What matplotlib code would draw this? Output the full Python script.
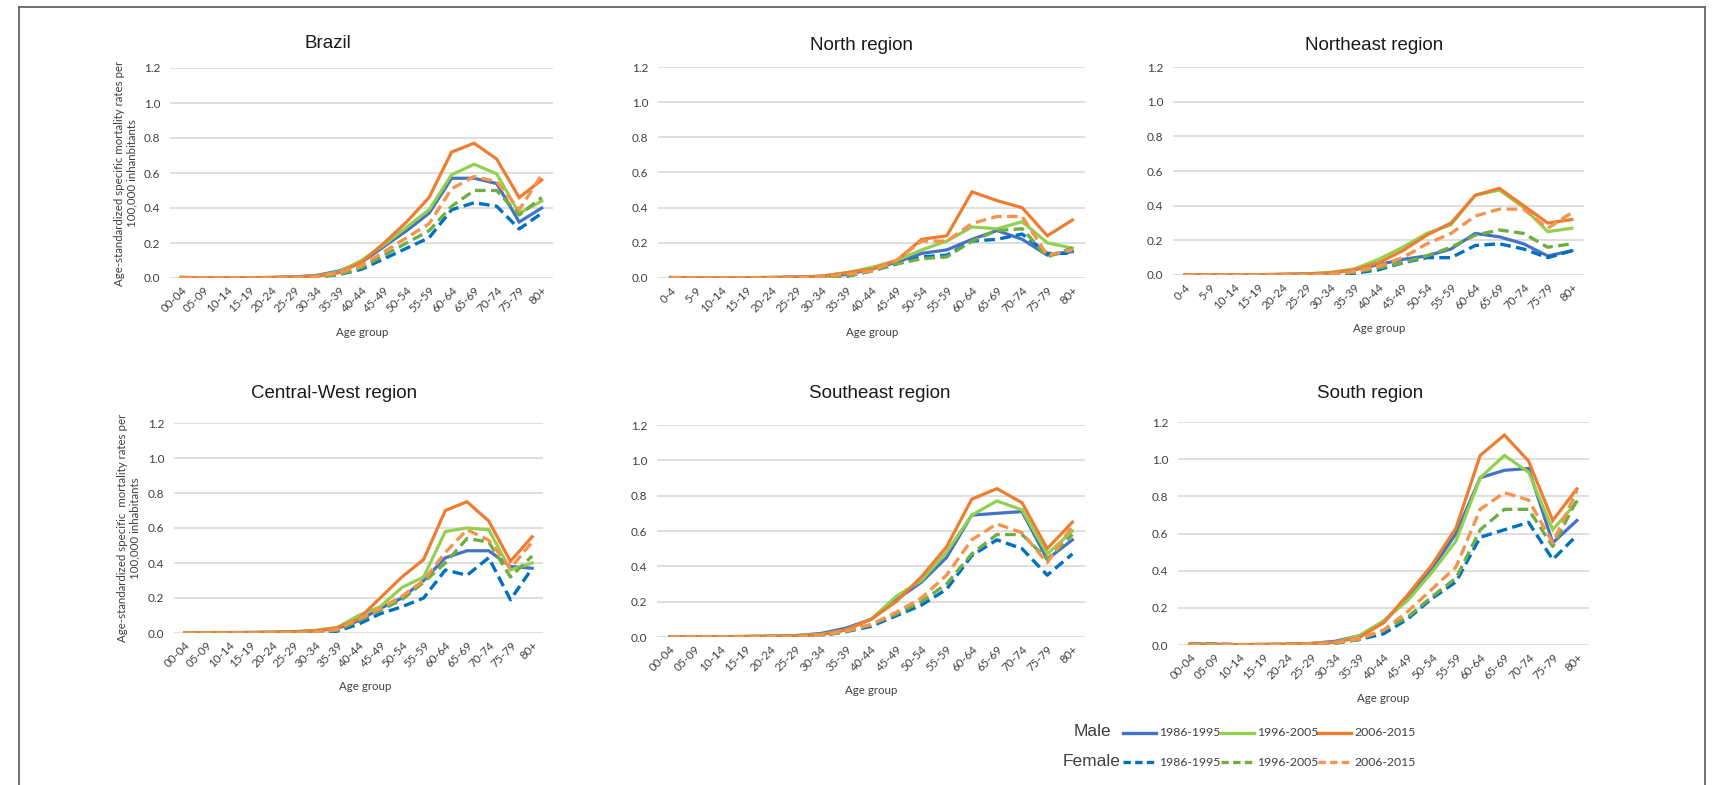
import matplotlib.pyplot as plt
from matplotlib.lines import Line2D
import numpy as np

# age groups (two labelling styles used in the source figure)
ages_a = ['00-04', '05-09', '10-14', '15-19', '20-24', '25-29', '30-34', '35-39', '40-44',
          '45-49', '50-54', '55-59', '60-64', '65-69', '70-74', '75-79', '80+']
ages_b = ['0-4', '5-9', '10-14', '15-19', '20-24', '25-29', '30-34', '35-39', '40-44',
          '45-49', '50-54', '55-59', '60-64', '65-69', '70-74', '75-79', '80+']

periods = ['1986-1995', '1996-2005', '2006-2015']

# values per panel: male (m) and female (f) for each period
brazil_m86 = [0.003, 0.001, 0.001, 0.002, 0.003, 0.006, 0.015, 0.04, 0.09, 0.18, 0.27, 0.37, 0.57, 0.57, 0.54, 0.32, 0.40]
brazil_m96 = [0.005, 0.001, 0.001, 0.002, 0.003, 0.005, 0.012, 0.035, 0.10, 0.19, 0.29, 0.39, 0.59, 0.65, 0.595, 0.37, 0.44]
brazil_m06 = [0.002, 0.001, 0.001, 0.002, 0.003, 0.005, 0.01, 0.03, 0.09, 0.20, 0.32, 0.46, 0.72, 0.77, 0.68, 0.46, 0.56]
brazil_f86 = [0.002, 0.001, 0.001, 0.001, 0.002, 0.003, 0.006, 0.02, 0.05, 0.11, 0.17, 0.23, 0.39, 0.43, 0.41, 0.28, 0.37]
brazil_f96 = [0.002, 0.001, 0.001, 0.001, 0.002, 0.003, 0.006, 0.02, 0.06, 0.13, 0.20, 0.27, 0.41, 0.50, 0.50, 0.36, 0.46]
brazil_f06 = [0.002, 0.001, 0.001, 0.001, 0.002, 0.003, 0.008, 0.03, 0.07, 0.15, 0.23, 0.31, 0.51, 0.58, 0.55, 0.39, 0.59]

north_m86 = [0.003, 0.002, 0.001, 0.002, 0.003, 0.005, 0.01, 0.02, 0.05, 0.09, 0.14, 0.16, 0.22, 0.27, 0.22, 0.13, 0.15]
north_m96 = [0.003, 0.002, 0.002, 0.002, 0.003, 0.006, 0.01, 0.03, 0.06, 0.10, 0.16, 0.21, 0.29, 0.28, 0.32, 0.20, 0.17]
north_m06 = [0.002, 0.002, 0.001, 0.002, 0.003, 0.005, 0.01, 0.03, 0.05, 0.10, 0.22, 0.24, 0.49, 0.44, 0.40, 0.24, 0.33]
north_f86 = [0.002, 0.001, 0.001, 0.001, 0.002, 0.003, 0.006, 0.01, 0.04, 0.08, 0.12, 0.13, 0.21, 0.22, 0.25, 0.14, 0.14]
north_f96 = [0.002, 0.001, 0.001, 0.001, 0.002, 0.003, 0.005, 0.01, 0.04, 0.08, 0.11, 0.12, 0.21, 0.27, 0.28, 0.12, 0.17]
north_f06 = [0.002, 0.001, 0.001, 0.001, 0.002, 0.004, 0.008, 0.02, 0.04, 0.10, 0.21, 0.21, 0.31, 0.35, 0.35, 0.13, 0.16]

northeast_m86 = [0.002, 0.001, 0.001, 0.002, 0.003, 0.005, 0.01, 0.03, 0.06, 0.09, 0.11, 0.15, 0.24, 0.22, 0.18, 0.11, 0.14]
northeast_m96 = [0.002, 0.001, 0.001, 0.002, 0.004, 0.007, 0.015, 0.035, 0.09, 0.16, 0.24, 0.29, 0.46, 0.49, 0.39, 0.25, 0.27]
northeast_m06 = [0.002, 0.001, 0.001, 0.002, 0.004, 0.006, 0.012, 0.03, 0.07, 0.14, 0.23, 0.30, 0.46, 0.50, 0.40, 0.30, 0.32]
northeast_f86 = [0.001, 0.001, 0.001, 0.001, 0.002, 0.003, 0.005, 0.01, 0.03, 0.07, 0.10, 0.10, 0.17, 0.18, 0.15, 0.10, 0.14]
northeast_f96 = [0.001, 0.001, 0.001, 0.001, 0.002, 0.003, 0.005, 0.015, 0.04, 0.07, 0.11, 0.16, 0.23, 0.26, 0.24, 0.16, 0.18]
northeast_f06 = [0.001, 0.001, 0.001, 0.001, 0.002, 0.003, 0.006, 0.02, 0.05, 0.10, 0.18, 0.24, 0.34, 0.38, 0.38, 0.27, 0.36]

cwest_m86 = [0.002, 0.002, 0.003, 0.003, 0.004, 0.006, 0.012, 0.025, 0.07, 0.14, 0.20, 0.30, 0.43, 0.47, 0.47, 0.38, 0.37]
cwest_m96 = [0.003, 0.002, 0.002, 0.003, 0.005, 0.008, 0.015, 0.03, 0.10, 0.15, 0.26, 0.32, 0.58, 0.60, 0.59, 0.36, 0.40]
cwest_m06 = [0.002, 0.002, 0.002, 0.003, 0.005, 0.007, 0.012, 0.03, 0.08, 0.20, 0.32, 0.42, 0.70, 0.75, 0.64, 0.41, 0.55]
cwest_f86 = [0.001, 0.001, 0.001, 0.001, 0.002, 0.003, 0.004, 0.01, 0.05, 0.11, 0.15, 0.20, 0.36, 0.33, 0.43, 0.19, 0.37]
cwest_f96 = [0.001, 0.001, 0.001, 0.001, 0.002, 0.003, 0.005, 0.015, 0.07, 0.13, 0.19, 0.29, 0.40, 0.54, 0.52, 0.32, 0.44]
cwest_f06 = [0.001, 0.001, 0.001, 0.001, 0.002, 0.003, 0.006, 0.02, 0.08, 0.14, 0.21, 0.30, 0.46, 0.59, 0.53, 0.37, 0.52]

seast_m86 = [0.002, 0.001, 0.002, 0.003, 0.004, 0.008, 0.02, 0.05, 0.10, 0.21, 0.31, 0.45, 0.69, 0.70, 0.71, 0.44, 0.55]
seast_m96 = [0.002, 0.001, 0.002, 0.003, 0.004, 0.008, 0.015, 0.04, 0.10, 0.23, 0.32, 0.48, 0.69, 0.77, 0.72, 0.47, 0.60]
seast_m06 = [0.002, 0.001, 0.002, 0.003, 0.004, 0.007, 0.012, 0.04, 0.10, 0.20, 0.34, 0.51, 0.78, 0.84, 0.76, 0.50, 0.65]
seast_f86 = [0.001, 0.001, 0.001, 0.002, 0.003, 0.004, 0.008, 0.03, 0.06, 0.12, 0.18, 0.27, 0.46, 0.55, 0.50, 0.35, 0.47]
seast_f96 = [0.001, 0.001, 0.001, 0.002, 0.003, 0.004, 0.008, 0.03, 0.07, 0.13, 0.20, 0.30, 0.47, 0.58, 0.58, 0.44, 0.58]
seast_f06 = [0.001, 0.001, 0.001, 0.002, 0.003, 0.004, 0.01, 0.035, 0.07, 0.14, 0.22, 0.35, 0.55, 0.64, 0.59, 0.42, 0.63]

south_m86 = [0.005, 0.004, 0.002, 0.003, 0.004, 0.008, 0.02, 0.05, 0.12, 0.26, 0.41, 0.60, 0.90, 0.94, 0.95, 0.55, 0.67]
south_m96 = [0.006, 0.004, 0.002, 0.003, 0.004, 0.008, 0.015, 0.05, 0.13, 0.24, 0.39, 0.56, 0.90, 1.02, 0.93, 0.62, 0.77]
south_m06 = [0.003, 0.002, 0.002, 0.003, 0.004, 0.008, 0.015, 0.04, 0.12, 0.27, 0.43, 0.63, 1.02, 1.13, 0.99, 0.67, 0.84]
south_f86 = [0.005, 0.005, 0.002, 0.002, 0.003, 0.005, 0.01, 0.03, 0.06, 0.14, 0.25, 0.34, 0.58, 0.62, 0.66, 0.46, 0.59]
south_f96 = [0.005, 0.003, 0.002, 0.002, 0.003, 0.005, 0.01, 0.03, 0.08, 0.15, 0.26, 0.36, 0.62, 0.73, 0.73, 0.53, 0.78]
south_f06 = [0.003, 0.002, 0.002, 0.002, 0.003, 0.006, 0.012, 0.035, 0.08, 0.18, 0.30, 0.42, 0.73, 0.82, 0.78, 0.55, 0.83]

male_colors = ['#4472C4', '#92D050', '#ED7D31']
female_colors = ['#0070C0', '#70AD47', '#F4944E']

ylab1 = 'Age-standardized specific mortality rates per\n100,000 inhanbitants'
ylab2 = 'Age-standardized specific  mortality rates per\n100,000 inhabitants'

W, H = 1716, 785
# (title, ages, male series, female series, axes box in px: left, right, top, bottom,
#  title xy, age-group label xy, y-label)
panels = [
    ('Brazil', ages_a, [brazil_m86, brazil_m96, brazil_m06], [brazil_f86, brazil_f96, brazil_f06],
     (170, 553, 68, 278), (328, 43), (362, 333), (ylab1, 126)),
    ('North region', ages_b, [north_m86, north_m96, north_m06], [north_f86, north_f96, north_f06],
     (658, 1085, 67, 278), (862, 45), (872, 333), None),
    ('Northeast region', ages_b, [northeast_m86, northeast_m96, northeast_m06],
     [northeast_f86, northeast_f96, northeast_f06],
     (1173, 1584, 67, 275), (1374, 45), (1379, 328), None),
    ('Central-West region', ages_a, [cwest_m86, cwest_m96, cwest_m06], [cwest_f86, cwest_f96, cwest_f06],
     (174, 543, 423, 633), (334, 394), (365, 687), (ylab2, 129)),
    ('Southeast region', ages_a, [seast_m86, seast_m96, seast_m06], [seast_f86, seast_f96, seast_f06],
     (657, 1085, 425, 637), (880, 394), (871, 690), None),
    ('South region', ages_a, [south_m86, south_m96, south_m06], [south_f86, south_f96, south_f06],
     (1178, 1589, 422, 645), (1370, 394), (1383, 698), None),
]

fig = plt.figure(figsize=(W / 100, H / 100), dpi=100)
tick_font = 'Lato'
title_font = 'Liberation Sans'
txt_color = '#404040'

for title, ages, males, females, box, tpos, apos, ylab in panels:
    l, r, t, b = box
    ax = fig.add_axes([l / W, 1 - b / H, (r - l) / W, (b - t) / H])
    x = np.arange(len(ages))
    for vals, c in zip(males, male_colors):
        ax.plot(x, vals, color=c, lw=2.3, solid_joinstyle='miter', zorder=3)
    for vals, c in zip(females, female_colors):
        ax.plot(x, vals, color=c, lw=2.4, linestyle=(0, (3.2, 1.6)), zorder=3)
    ax.set_xlim(-0.5, len(ages) - 0.5)
    ax.set_ylim(0, 1.2)
    yt = np.arange(0, 1.21, 0.2)
    ax.set_yticks(yt)
    ax.set_yticklabels([f'{v:.1f}' for v in yt], fontsize=8.5, family=tick_font, color=txt_color)
    ax.set_xticks(x)
    ax.set_xticklabels(ages, rotation=45, ha='right', rotation_mode='anchor',
                       fontsize=8.3, family=tick_font, color=txt_color)
    ax.tick_params(length=0, pad=7)
    ax.tick_params(axis='x', pad=5)
    ax.grid(axis='y', color='#D9D9D9', lw=1.2)
    ax.set_axisbelow(True)
    for s in ax.spines.values():
        s.set_visible(False)
    fig.text(tpos[0] / W, 1 - tpos[1] / H, title, ha='center', va='center',
             fontsize=13.5, family=title_font, color='#1a1a1a')
    fig.text(apos[0] / W, 1 - apos[1] / H, 'Age group', ha='center', va='center',
             fontsize=8.3, family=tick_font, color=txt_color)
    if ylab is not None:
        fig.text(ylab[1] / W, 1 - (b + t) / 2 / H, ylab[0], rotation=90, ha='center', va='center',
                 fontsize=8.3, family=tick_font, color=txt_color, linespacing=1.15)

# legend drawn in figure pixels
fig.text(1092 / W, 1 - 732 / H, 'Male', ha='center', va='center', fontsize=12.5,
         family=title_font, color=txt_color)
fig.text(1092 / W, 1 - 762 / H, 'Female', ha='center', va='center', fontsize=12.5,
         family=title_font, color=txt_color)
starts = [1123, 1221, 1318]
for i, p in enumerate(periods):
    x0 = starts[i]
    for yy, c, ls in [(733, male_colors[i], '-'), (762, female_colors[i], (0, (2.2, 1.3)))]:
        fig.add_artist(Line2D([x0 / W, (x0 + 33) / W], [1 - yy / H, 1 - yy / H],
                              color=c, lw=2.4, linestyle=ls, transform=fig.transFigure))
        fig.text((x0 + 36) / W, 1 - yy / H, p, ha='left', va='center', fontsize=8.8,
                 family=tick_font, color=txt_color)

# outer frame
for xs, ys in [([19, 19], [7, H]), ([19, 1705], [7, 7]), ([1705, 1705], [7, H])]:
    fig.add_artist(Line2D([v / W for v in xs], [1 - v / H for v in ys], color='#666666',
                          lw=1.3, transform=fig.transFigure))

fig.savefig('out.png', dpi=100, facecolor='white')
